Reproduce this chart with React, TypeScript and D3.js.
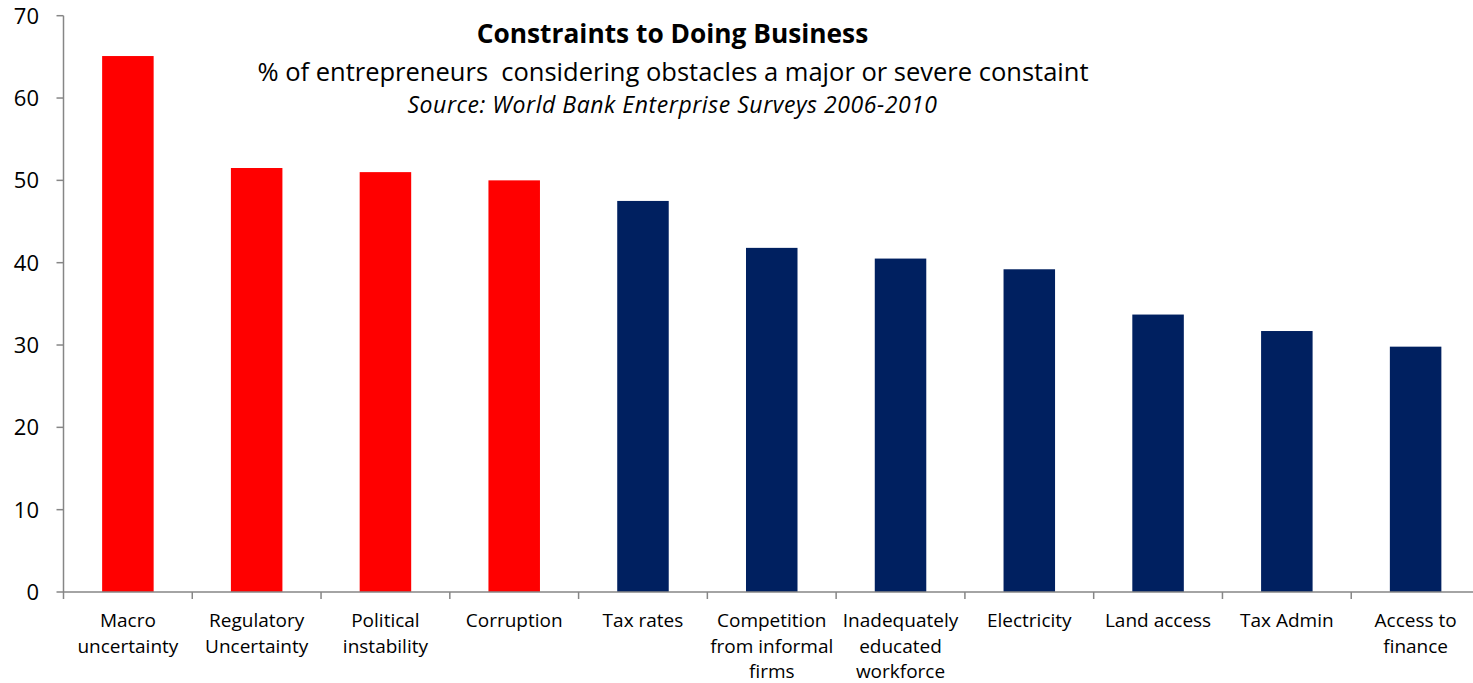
import React from "react";
import * as d3 from "d3";

const categories: string[] = [
  "Macro\nuncertainty",
  "Regulatory\nUncertainty",
  "Political\ninstability",
  "Corruption",
  "Tax rates",
  "Competition\nfrom informal\nfirms",
  "Inadequately\neducated\nworkforce",
  "Electricity",
  "Land access",
  "Tax Admin",
  "Access to\nfinance",
];
const values: number[] = [65.1, 51.5, 51.0, 50.0, 47.5, 41.8, 40.5, 39.2, 33.7, 31.7, 29.8];
const highlighted: boolean[] = [true, true, true, true, false, false, false, false, false, false, false];
const yTicks: number[] = [0, 10, 20, 30, 40, 50, 60, 70];

const titleText = "Constraints to Doing Business";
const subtitleText = "% of entrepreneurs  considering obstacles a major or severe constaint";
const sourceText = "Source: World Bank Enterprise Surveys 2006-2010";

const W = 1473;
const H = 683;
const FONT = "'Open Sans', 'Noto Sans', sans-serif";

export default function App() {
  const x0 = 63.5;
  const x1 = 1480;
  const yTop = 15.7;
  const yBottom = 592;
  const x = d3.scaleBand<number>().domain(d3.range(categories.length)).range([x0, x1]).paddingInner(0.6).paddingOuter(0.3);
  const y = d3.scaleLinear().domain([0, 70]).range([yBottom, yTop]);
  const step = x.step();
  const axisColor = "#868686";

  return (
    <svg width={W} height={H} style={{ position: "absolute", left: 0, top: 0, background: "#fff" }} fontFamily={FONT}>
      {/* bars */}
      {values.map((v, i) => (
        <rect key={i} x={x(i)!} y={y(v)} width={x.bandwidth()} height={y(0) - y(v)} fill={highlighted[i] ? "#FF0000" : "#002060"} />
      ))}
      {/* y axis */}
      <line x1={x0} x2={x0} y1={y(70)} y2={y(0) + 7} stroke={axisColor} strokeWidth={1.5} />
      {yTicks.map((t) => (
        <g key={t}>
          <line x1={x0 - 7} x2={x0} y1={y(t)} y2={y(t)} stroke={axisColor} strokeWidth={1.5} />
          <text x={39} y={y(t)} dy="0.36em" textAnchor="end" fontSize={22} fill="#000">{t}</text>
        </g>
      ))}
      {/* x axis */}
      <line x1={x0} x2={x1} y1={y(0)} y2={y(0)} stroke={axisColor} strokeWidth={1.5} />
      {categories.map((_, i) => (
        <line key={i} x1={x0 + step * (i + 1)} x2={x0 + step * (i + 1)} y1={y(0)} y2={y(0) + 7} stroke={axisColor} strokeWidth={1.5} />
      ))}
      {categories.map((c, i) => {
        const cx = x(i)! + x.bandwidth() / 2;
        return (
          <text key={i} x={cx} y={627} textAnchor="middle" fontSize={19} fill="#000">
            {c.split("\n").map((ln, j) => (
              <tspan key={j} x={cx} dy={j === 0 ? 0 : 25.5}>{ln}</tspan>
            ))}
          </text>
        );
      })}
      {/* titles */}
      <text x={672.5} y={43} textAnchor="middle" fontSize={26.3} fontWeight="bold" fill="#000">{titleText}</text>
      <text x={673} y={81} textAnchor="middle" fontSize={25.5} fill="#000" style={{ whiteSpace: "pre" }}>{subtitleText}</text>
      <text x={672.5} y={113} textAnchor="middle" fontSize={23} fontStyle="italic" letterSpacing={0.55} fill="#000">{sourceText}</text>
    </svg>
  );
}
